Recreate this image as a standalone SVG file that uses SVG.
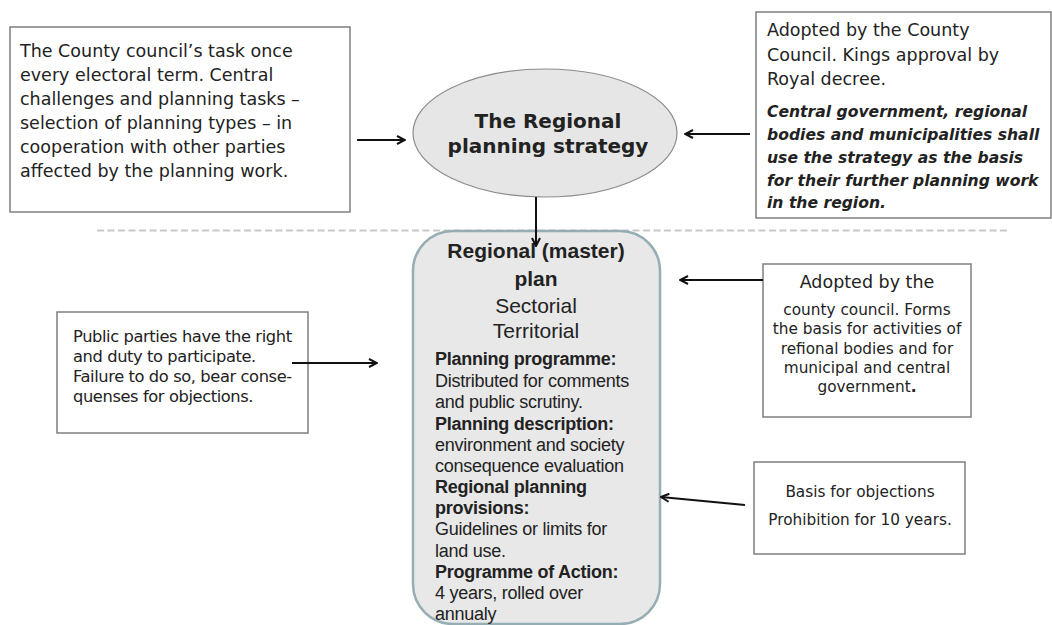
<svg xmlns="http://www.w3.org/2000/svg" width="1052" height="625" viewBox="0 0 1052 625">
<defs>
<marker id="ah" viewBox="0 0 10 10" refX="9" refY="5" markerWidth="10" markerHeight="10" markerUnits="userSpaceOnUse" orient="auto">
<path d="M1,1 L9,5 L1,9" fill="none" stroke="#111" stroke-width="2"/>
</marker>
<style>
.box{fill:#fff;stroke:#7f7f7f;stroke-width:1.5}
.vd{font-family:"DejaVu Sans",Verdana,sans-serif;fill:#222}
.ar{font-family:"Liberation Sans",Arial,sans-serif;fill:#222}
.b{font-weight:bold}
.conn{stroke:#111;stroke-width:2;fill:none}
</style>
</defs>
<rect width="1052" height="625" fill="#fff"/>
<line x1="97" y1="230.5" x2="1007" y2="230.5" stroke="#c8c8c8" stroke-width="2" stroke-dasharray="7,3.5"/>

<g id="box-task">
<rect class="box" x="10" y="27" width="340" height="185"/>
<text class="vd" font-size="17.5" x="20"><tspan x="20" y="57">The County council’s task once</tspan><tspan x="20" y="81">every electoral term. Central</tspan><tspan x="20" y="105">challenges and planning tasks –</tspan><tspan x="20" y="129">selection of  planning types – in</tspan><tspan x="20" y="153">cooperation with other parties</tspan><tspan x="20" y="177">affected by the planning work.</tspan></text>
</g>

<g id="strategy">
<ellipse cx="545" cy="133" rx="132" ry="64" fill="#e6e6e6" stroke="#8c8c8c" stroke-width="1.2"/>
<text class="vd b" font-size="20" text-anchor="middle"><tspan x="548" y="128">The Regional</tspan><tspan x="548" y="153">planning strategy</tspan></text>
</g>

<g id="box-adopted">
<rect class="box" x="756" y="12" width="295" height="206"/>
<text class="vd" font-size="17.5"><tspan x="767" y="36">Adopted by the County</tspan><tspan x="767" y="61">Council. Kings approval by</tspan><tspan x="767" y="85">Royal decree.</tspan></text>
<text class="vd b" font-size="15.6" font-style="italic"><tspan x="767" y="117">Central government, regional</tspan><tspan x="767" y="140">bodies and municipalities shall</tspan><tspan x="767" y="163">use the strategy as the basis</tspan><tspan x="767" y="186">for their further planning work</tspan><tspan x="767" y="208">in the region.</tspan></text>
</g>

<g id="plan">
<rect x="413" y="231" width="247" height="393" rx="40" ry="40" fill="#e8e8e8" stroke="#95adb3" stroke-width="2.5"/>
<text class="ar b" font-size="21" text-anchor="middle"><tspan x="536" y="258">Regional (master)</tspan><tspan x="536" y="286">plan</tspan></text>
<text class="ar" font-size="21" text-anchor="middle"><tspan x="536" y="313">Sectorial</tspan><tspan x="536" y="338">Territorial</tspan></text>
<text class="ar" font-size="18" letter-spacing="-0.25">
<tspan x="435" y="365" font-weight="bold">Planning programme:</tspan>
<tspan x="435" y="387">Distributed for comments</tspan>
<tspan x="435" y="408">and public scrutiny.</tspan>
<tspan x="435" y="430" font-weight="bold">Planning description:</tspan>
<tspan x="435" y="451">environment and society</tspan>
<tspan x="435" y="472">consequence evaluation</tspan>
<tspan x="435" y="493" font-weight="bold">Regional planning</tspan>
<tspan x="435" y="514" font-weight="bold">provisions:</tspan>
<tspan x="435" y="535">Guidelines or limits for</tspan>
<tspan x="435" y="557">land use.</tspan>
<tspan x="435" y="578" font-weight="bold">Programme of Action:</tspan>
<tspan x="435" y="599">4 years, rolled over</tspan>
<tspan x="435" y="620">annualy</tspan>
</text>
</g>

<g id="box-public">
<rect class="box" x="57" y="312" width="251" height="121"/>
<text class="vd" font-size="16.3" letter-spacing="-0.4"><tspan x="73" y="342">Public parties have the right</tspan><tspan x="73" y="362">and duty to participate.</tspan><tspan x="73" y="382">Failure to do so, bear conse-</tspan><tspan x="73" y="402">quenses for objections.</tspan></text>
</g>

<g id="box-county">
<rect class="box" x="763" y="264" width="208" height="153"/>
<text class="vd" font-size="17.5" text-anchor="middle"><tspan x="867" y="288">Adopted by the</tspan></text>
<text class="vd" font-size="15.3" text-anchor="middle"><tspan x="867" y="315">county council. Forms</tspan><tspan x="867" y="334">the basis for activities of</tspan><tspan x="867" y="354">refional bodies and for</tspan><tspan x="867" y="373">municipal and central</tspan><tspan x="867" y="392">government<tspan font-weight="bold">.</tspan></tspan></text>
</g>

<g id="box-basis">
<rect class="box" x="754" y="462" width="211" height="92"/>
<text class="vd" font-size="15.3" text-anchor="middle"><tspan x="860" y="497">Basis for objections</tspan><tspan x="860" y="525">Prohibition for 10 years.</tspan></text>
</g>

<g id="connectors">
<line class="conn" x1="357" y1="140" x2="405" y2="140" marker-end="url(#ah)"/>
<line class="conn" x1="750" y1="134" x2="685" y2="134" marker-end="url(#ah)"/>
<line class="conn" x1="536" y1="197" x2="536" y2="246" marker-end="url(#ah)"/>
<line class="conn" x1="292" y1="363" x2="377" y2="363" marker-end="url(#ah)"/>
<line class="conn" x1="763" y1="280" x2="680" y2="280" marker-end="url(#ah)"/>
<line class="conn" x1="745" y1="505" x2="661" y2="497" marker-end="url(#ah)"/>
</g>
</svg>
